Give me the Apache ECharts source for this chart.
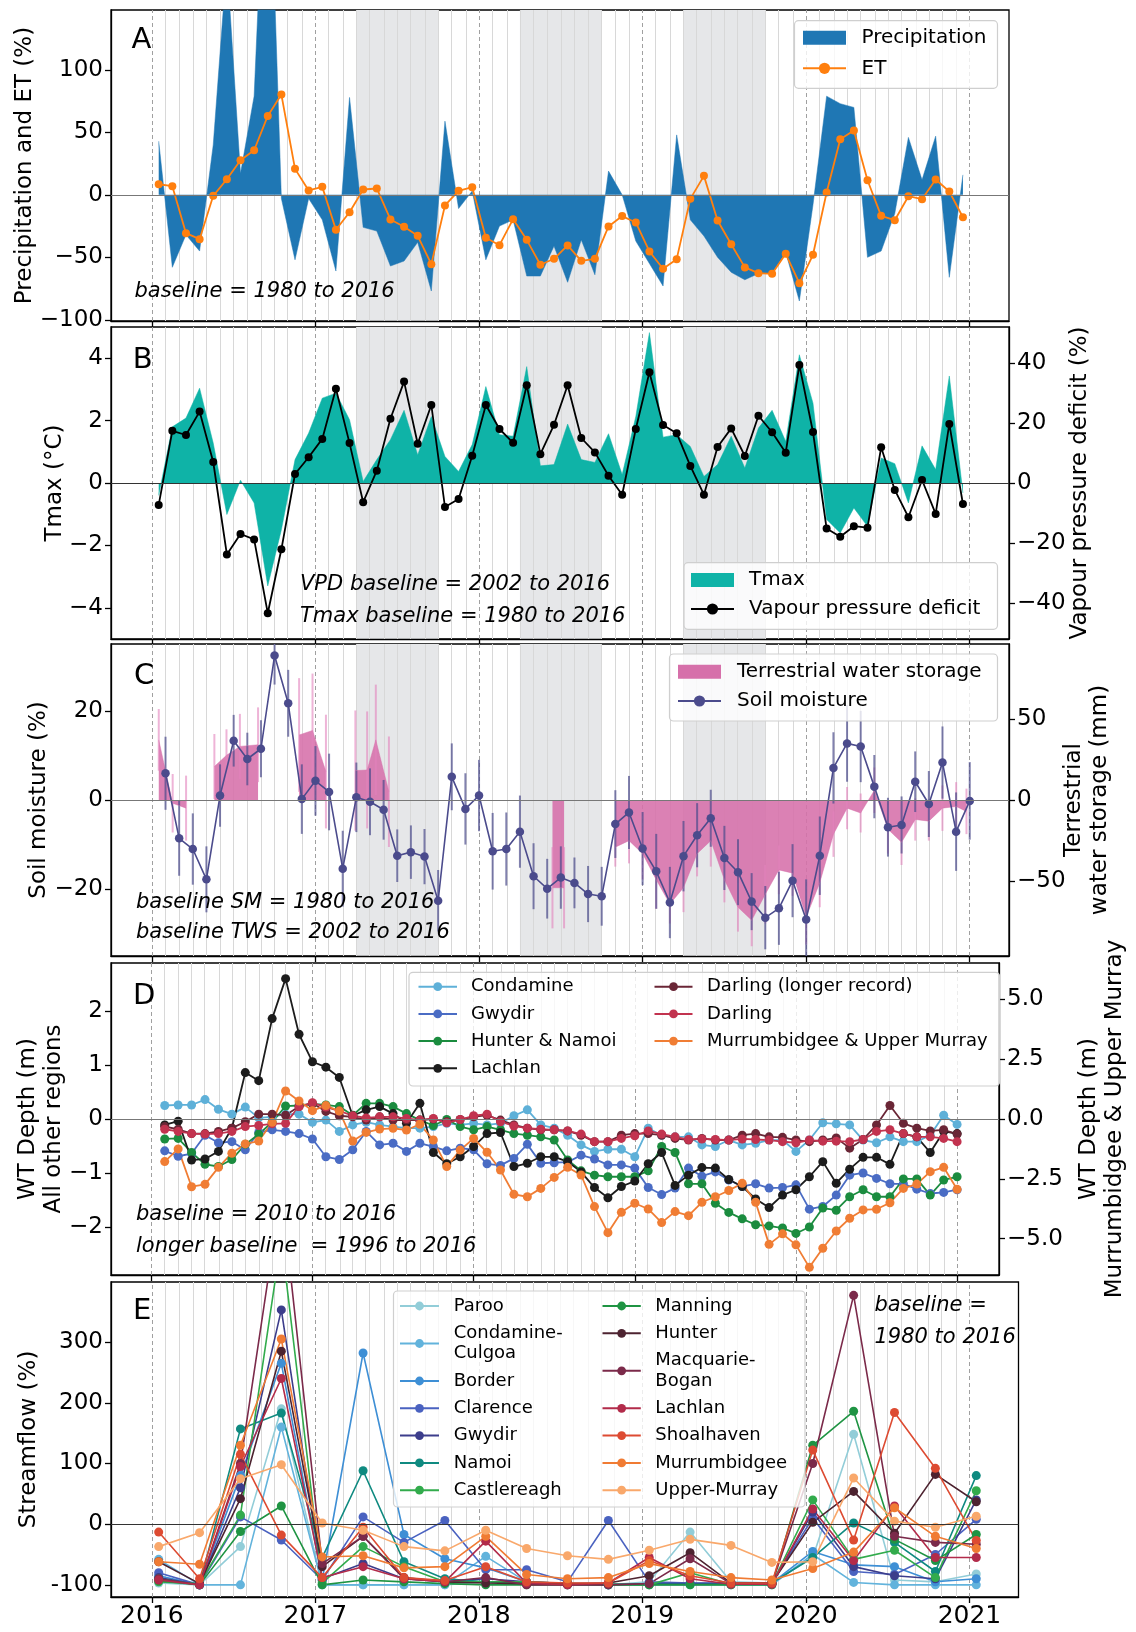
<!DOCTYPE html>
<html>
<head>
<meta charset="utf-8" />
<title>Drought indicators 2016-2021</title>
<script src="https://cdn.jsdelivr.net/npm/echarts@6.0.0/dist/echarts.min.js"></script>
<style>
  html, body { margin: 0; padding: 0; background: #fff; }
  #chart { width: 1136px; height: 1632px; }
</style>
</head>
<body>
<div id="chart"></div>
<script>
const FONT = "DejaVu Sans";

// time positions (decimal years)
const monthMid = [];
for (let i = 0; i < 60; i++) monthMid.push(2016 + (i + 0.5) / 12);
const monthEnd = [];
for (let k = 1; k <= 60; k++) monthEnd.push(2016 + k / 12);
const quarterMid = [];
for (let q = 0; q <= 20; q++) quarterMid.push(2016 + (3 * q + 0.5) / 12);

const yearTicks = [2016, 2017, 2018, 2019, 2020, 2021];
const dryPeriods = [[2017.25, 2017.75], [2018.25, 2018.75], [2019.25, 2019.75]];

// ---- A: precipitation and ET anomaly (%) ----
const precip = [43, -58, -32, -45, 40, 187, 17, 79, 330, -3, -52, -3, -20, -61, 78, -26, -29, -57, -53, -38,
  -77, 59, -11, 3, -52, -25, -20, -65, -65, -41, -70, -36, -64, 19, 0, -37, -55, -73, 48, -20,
  -33, -50, -62, -68, -63, -63, -46, -85, -8, 79, 73, 70, -50, -45, -15, 46, 12, 47, -66, 16];
const et = [8.5, 6.9, -30.7, -35.5, -0.8, 12.5, 27.7, 35.7, 63.2, 80.3, 20.8, 3.5, 6.4, -28, -13.9, 4.3, 5.1, -19.7, -25.6, -32.8,
  -55.5, -8.5, 3.2, 6.1, -34.4, -40.3, -19.5, -36, -56, -51.2, -40.5, -52.8, -51.2, -25.3, -17, -22.1, -45.3, -59.2, -51.5, -3.2,
  15.2, -20.5, -39.5, -58.1, -62.7, -63.2, -47.2, -70.7, -48, 1.9, 44.5, 51.5, 11.7, -16.8, -20.3, -1.1, -3.5, 12.3, 2.7, -17.9];

// ---- B: Tmax (°C) and VPD (%) ----
const tmax = [-0.4, 1.8, 2.08, 3.04, 1.28, -1.01, 0.09, -0.64, -3.3, -1.5, 0.75, 1.6, 2.72, 2.88, 2.03, 0.05, 0.75, 1.39, 2.33, 0.9,
  2.13, 0.85, 0.37, 1.23, 3.09, 1.55, 1.5, 3.73, 0.55, 0.59, 1.89, 0.75, 0.66, 1.58, 0.27, 2.13, 4.82, 1.47, 1.55, 1.17,
  0.21, 0.59, 1.5, 0.48, 1.76, 2.33, 1.33, 4.11, 2.56, -1.17, -1.6, -0.8, -1.39, 0.8, 0.62, -0.64, 1.19, 0.43, 3.43, -0.32];
const vpd = [-7.3, 17.4, 16, 23.8, 7, -23.8, -17, -18.8, -43.4, -22.1, 3, 8.6, 14.7, 31.4, 13.3, -6.4, 4.1, 21.4, 33.8, 13.1,
  26, -8, -5.3, 9.1, 26, 18, 13.4, 32.6, 9.6, 19.4, 32.6, 15, 10.2, 2.4, -3.9, 18, 36.9, 19.3, 16.6, 5.7,
  -3.9, 12, 18.2, 9, 22.4, 16.9, 10.1, 39.3, 17, -15.2, -17.9, -14.4, -14.9, 11.9, -2.3, -11.4, 1, -10.3, 19.7, -7];

// ---- C: soil moisture (%) and terrestrial water storage (mm) ----
const soilMoisture = [6, -8.6, -11, -17.8, 1, 13.3, 9.2, 11.5, 32.4, 21.7, 0.2, 4.3, 1.8, -15.4, 0.6, -0.4, -2.2, -12.5, -11.7, -12.7,
  -22.6, 5.2, -2, 1, -11.5, -11, -7.1, -17.1, -19.9, -17.4, -18.6, -21.1, -21.6, -5.4, -2.8, -10.9, -16, -23, -12.6, -7.9,
  -4.1, -13, -16.2, -22.8, -26.4, -24.3, -18.1, -26.8, -12.5, 7.2, 12.7, 12, 3, -6.1, -5.6, 4.1, -0.9, 8.4, -7.1, -0.2];
const soilMoistureErr = [8.2, 8.4, 8, 7.4, 7, 5.8, 5.9, 6.4, 6.5, 7.5, 7.8, 7.8, 8.6, 8.5, 7.8, 7.5, 6.7, 5.9, 6, 6.2,
  6.9, 7.5, 8, 8, 8.6, 8.2, 8.1, 7.4, 6.7, 7, 5.7, 6.3, 6.6, 7.6, 8.2, 8.2, 8.4, 8, 7.9, 7.2,
  6.4, 7.2, 7.4, 6.4, 7.1, 8.2, 8.2, 9, 8.8, 8, 8.6, 8, 7.1, 6.6, 6.4, 6.8, 7.4, 8.1, 8.8, 8.7];
const twsDates = [2016.042, 2016.127, 2016.209, 2016.3, 2016.382, 2016.456, 2016.538, 2016.649, 2016.75,
  2016.9, 2016.982, 2017.064, 2017.15, 2017.244, 2017.316, 2017.369, 2017.449, 2017.9, 2018.449, 2018.52, 2018.7,
  2018.833, 2018.917, 2019.0, 2019.083, 2019.167, 2019.25, 2019.333, 2019.417, 2019.5, 2019.583, 2019.667, 2019.75,
  2019.833, 2019.917, 2020.0, 2020.083, 2020.167, 2020.25, 2020.333, 2020.417, 2020.5, 2020.583, 2020.667, 2020.75,
  2020.833, 2020.917, 2020.98];
const tws = [37, -2, -5, null, 20.6, 27.5, 33, 34, null, 40, 42.8, 17.5, null, 18.1, 18.5, 37, 5.1, null, -54, -54, null,
  -29, -25, -33, -49, -64, -54, -33, -25, -49, -66, -74, -58, -43, -45, -72, -51, -21, -5, -8, 6, -18, -26, -12, -13, -5, -4, -7];
const twsErr = [19, 18, 20, null, 20, 16, 20, 23, null, 35, 35, 35, null, 37, 36, 34, 34, null, 25, 25, null,
  12, 14, 16, 18, 12, 15, 14, 16, 14, 15, 16, 18, 15, 14, 17, 15, 14, 13, 12, 14, 15, 14, 13, 12, 14, 15, 14];

// ---- D: water table depth anomaly (m) ----
const wtCondamine = [0.25, 0.26, 0.26, 0.36, 0.18, 0.09, 0.22, 0.02, 0.04, 0.09, 0.09, -0.06, -0.02, -0.23, -0.11, -0.06, -0.11, -0.14, -0.17, -0.17,
  -0.14, -0.08, -0.11, -0.08, -0.11, -0.08, 0.06, 0.17, -0.11, -0.17, -0.3, -0.48, -0.6, -0.56, -0.56, -0.7, -0.17, -0.3, -0.33, -0.33,
  -0.48, -0.51, -0.39, -0.48, -0.45, -0.39, -0.39, -0.6, -0.39, -0.07, -0.09, -0.11, -0.39, -0.44, -0.33, -0.42, -0.42, -0.3, 0.07, -0.1];
const wtGwydir = [-0.59, -0.69, -0.64, -0.3, -0.44, -0.42, -0.57, -0.25, -0.2, -0.23, -0.27, -0.37, -0.7, -0.75, -0.57, -0.23, -0.48, -0.45, -0.6, -0.45,
  -0.51, -0.59, -0.54, -0.57, -0.83, -0.86, -0.73, -0.47, -0.82, -0.81, -0.8, -0.67, -0.74, -0.85, -0.85, -0.91, -1.27, -1.4, -1.28, -0.91,
  -1.06, -0.98, -1.13, -1.25, -1.2, -1.28, -1.27, -1.22, -1.67, -1.62, -1.41, -1.04, -1.0, -1.1, -1.2, -1.2, -1.3, -1.38, -1.36, -1.31];
const wtHunterNamoi = [-0.37, -0.36, -0.62, -0.84, -0.88, -0.75, -0.47, -0.28, -0.06, 0.24, 0.25, 0.28, 0.26, 0.23, 0.07, 0.29, 0.29, 0.23, 0.1, -0.02,
  -0.12, -0.01, -0.14, -0.2, -0.14, -0.2, -0.27, -0.3, -0.33, -0.39, -0.76, -0.96, -1.04, -1.07, -1.07, -1.07, -0.96, -0.51, -0.62, -1.2,
  -1.2, -1.56, -1.73, -1.85, -1.96, -1.98, -2.02, -2.12, -2.0, -1.65, -1.69, -1.44, -1.31, -1.44, -1.44, -1.11, -1.11, -1.41, -1.13, -1.07];
const wtLachlan = [-0.11, -0.04, -0.76, -0.74, -0.6, -0.17, 0.86, 0.71, 1.86, 2.6, 1.57, 1.06, 0.96, 0.77, 0.06, 0.17, 0.23, 0.1, -0.08, 0.29,
  -0.62, -0.83, -0.7, -0.51, -0.27, -0.25, -0.88, -0.82, -0.7, -0.7, -0.79, -0.98, -1.27, -1.46, -1.25, -1.15, -0.83, -0.62, -1.23, -1.04,
  -0.9, -0.91, -1.12, -1.25, -1.48, -1.64, -1.41, -1.31, -1.07, -0.79, -1.19, -0.93, -0.71, -0.71, -0.84, -0.27, -0.33, -0.62, -0.23, -0.27];
const wtDarlingLong = [-0.14, -0.19, -0.27, -0.27, -0.23, -0.17, -0.05, 0.09, 0.09, 0.07, 0.23, 0.29, 0.14, 0.06, 0.04, -0.02, 0.04, -0.02, -0.02, -0.02,
  0, -0.05, -0.01, 0.04, 0.07, -0.02, -0.11, -0.17, -0.2, -0.2, -0.22, -0.3, -0.42, -0.42, -0.3, -0.27, -0.27, -0.3, -0.36, -0.39,
  -0.36, -0.39, -0.39, -0.3, -0.27, -0.33, -0.34, -0.39, -0.42, -0.39, -0.35, -0.54, -0.38, -0.11, 0.25, -0.08, -0.17, -0.22, -0.2, -0.28];
const wtDarling = [-0.19, -0.23, -0.27, -0.28, -0.27, -0.23, -0.14, -0.12, -0.09, -0.08, 0.23, 0.3, 0.22, 0.15, 0.06, 0.02, 0.04, 0.04, 0.01, -0.02,
  0.01, -0.07, -0.01, 0.06, 0.09, -0.05, -0.13, -0.17, -0.19, -0.2, -0.22, -0.28, -0.42, -0.42, -0.36, -0.31, -0.22, -0.28, -0.33, -0.38,
  -0.37, -0.38, -0.39, -0.37, -0.38, -0.39, -0.42, -0.44, -0.39, -0.41, -0.41, -0.42, -0.38, -0.23, -0.2, -0.27, -0.33, -0.33, -0.36, -0.42];
// right axis
const wtMurrumbidgee = [-1.78, -1.25, -2.83, -2.73, -2.02, -1.43, -1.04, -0.92, -0.14, 1.17, 0.75, 0.35, 0.56, 0.33, -0.92, -0.56, -0.42, -0.39, -0.46, -0.22,
  -0.88, -1.99, -1.3, -0.81, -1.39, -2.13, -3.15, -3.25, -2.9, -2.44, -2.02, -2.34, -3.66, -4.75, -3.9, -3.52, -3.76, -4.33, -3.87, -4.04,
  -3.48, -3.25, -2.99, -2.69, -3.48, -5.24, -4.8, -5.26, -6.2, -5.4, -4.68, -4.15, -3.8, -3.77, -3.5, -2.9, -2.72, -2.2, -2.02, -2.94];

// ---- E: streamflow anomaly (%), quarterly ----
const sfParoo = [-97, -100, -37, 190, -100, -100, -100, -100, -95, -98, -98, -100, -95, -13, -95, -97, -55, 148, -92, -95, -82];
const sfCondamineCulgoa = [-58, -100, -100, 160, -100, -100, -100, -100, -53, -95, -100, -100, -100, -100, -100, -100, -50, -96, -100, -100, -100];
const sfBorder = [-85, -100, 80, 265, -92, 282, -17, -57, -72, -95, -98, -100, -98, -98, -98, -97, -45, -67, -70, -95, -90];
const sfClarence = [-80, -100, 12, -26, -92, 12, -30, 6, -75, -75, -95, 6, -95, -97, -97, -97, 10, -78, -83, -50, 8];
const sfGwydir = [-88, -100, 60, 353, -90, -65, -90, -95, -90, -95, -98, -100, -98, -98, -98, -98, 20, -70, -85, -90, 40];
const sfNamoi = [-90, -100, 157, 183, -55, 88, -62, -90, -95, -97, -98, -99, -99, -99, -99, -97, -55, 2, -30, -78, 80];
const sfCastlereagh = [-95, -98, 15, 470, -97, -37, -70, -95, -95, -95, -98, -99, -100, -80, -99, -99, 40, -58, -43, -88, 55];
const sfManning = [-93, -100, -12, 30, -100, -92, -95, -98, -100, -100, -100, -100, -100, -100, -100, -100, 130, 186, -25, -60, -17];
const sfHunter = [-62, -98, 42, 285, -70, -20, -88, -95, -97, -98, -98, -97, -85, -47, -97, -97, 3, 54, -15, 82, 37];
const sfMacquarie = [-90, -100, 100, 550, -65, -20, -90, -95, -88, -100, -100, -100, -98, -57, -98, -98, 100, 377, -20, -30, -33];
const sfLachlan = [-92, -100, 95, 240, -88, -70, -90, -95, -28, -97, -100, -97, -55, -90, -99, -99, 25, -60, 30, -55, -55];
const sfShoalhaven = [-13, -90, 115, -18, -88, -5, -88, -93, -70, -95, -97, -97, -60, -85, -97, -97, 122, -26, 184, 92, -27];
const sfMurrumbidgee = [-62, -66, 130, 305, -54, -52, -72, -70, -20, -83, -90, -88, -65, -78, -88, -92, -73, -46, 27, -20, -40];
const sfUpperMurray = [-37, -14, 75, 98, 2, -10, -37, -44, -10, -40, -52, -58, -43, -25, -35, -63, -62, 76, 5, -5, 13];

// ---- helpers ----
const pairs = (xs, ys) => xs.map((x, i) => [x, ys[i] === null ? "-" : ys[i]]);
const errPairs = (xs, ys, es) =>
  xs.map((x, i) => (ys[i] === null ? null : [x, ys[i] - es[i], ys[i] + es[i]])).filter((d) => d);
const minusFmt = (v) => (v < 0 ? "\u2212" + Math.abs(v) : String(v));
const minusFmt1 = (v) => (v < 0 ? "\u2212" + Math.abs(v).toFixed(1) : v.toFixed(1));

const monthLines = [];
for (let m = 0; m <= 60; m++) {
  monthLines.push({
    xAxis: 2016 + m / 12,
    lineStyle: m % 12 === 0
      ? { color: "#a0a0a0", width: 1, type: [4, 3] }
      : { color: "#d8d8d8", width: 1, type: "solid" },
  });
}

const backdrop = (g, y, shaded) => {
  const out = [{
    type: "line", xAxisIndex: g, yAxisIndex: y, data: [[2016, 0]], symbol: "none",
    lineStyle: { opacity: 0 }, silent: true, z: 1,
    markLine: { z: 1, silent: true, symbol: ["none", "none"], label: { show: false }, emphasis: { disabled: true }, data: monthLines },
  }];
  if (shaded) {
    out.push({
      type: "line", xAxisIndex: g, yAxisIndex: y, data: [[2016, 0]], symbol: "none",
      lineStyle: { opacity: 0 }, silent: true, z: 0,
      markArea: { z: 0, silent: true, itemStyle: { color: "#e6e7e9" }, emphasis: { disabled: true },
        data: dryPeriods.map(([a, b]) => [{ xAxis: a }, { xAxis: b }]) },
    });
  }
  return out;
};

const zeroLine = (g, y, color) => ({
  type: "line", xAxisIndex: g, yAxisIndex: y, data: [[2016, 0]], symbol: "none",
  lineStyle: { opacity: 0 }, silent: true, z: 4,
  markLine: { z: 4, silent: true, symbol: ["none", "none"], label: { show: false }, emphasis: { disabled: true },
    lineStyle: { color, width: 1.2, type: "solid" }, data: [{ yAxis: 0 }] },
});

const areaSeries = (name, g, y, data, color, opacity) => ({
  name, type: "line", xAxisIndex: g, yAxisIndex: y, data, symbol: "none", showSymbol: false,
  connectNulls: false, z: 2, silent: true,
  itemStyle: { color }, lineStyle: { width: 0.5, color, opacity },
  areaStyle: { color, opacity },
});

const lineSeries = (name, g, y, data, color, size, width) => ({
  name, type: "line", xAxisIndex: g, yAxisIndex: y, data, symbol: "circle", symbolSize: size,
  showSymbol: true, z: 3, silent: true,
  itemStyle: { color }, lineStyle: { color, width },
});

const errorSeries = (g, y, data, color) => ({
  type: "custom", xAxisIndex: g, yAxisIndex: y, data, clip: true, z: 2, silent: true,
  encode: { x: 0, y: [1, 2] },
  renderItem: (params, api) => {
    const a = api.coord([api.value(0), api.value(1)]);
    const b = api.coord([api.value(0), api.value(2)]);
    return { type: "line", shape: { x1: a[0], y1: a[1], x2: b[0], y2: b[1] }, style: { stroke: color, lineWidth: 2 } };
  },
});

const tickStyle = { color: "#000", width: 1.3 };

const xAxisFor = (g, max) => ({
  type: "value", gridIndex: g, min: 2015.75, max,
  splitLine: { show: false },
  axisLine: { show: true, onZero: false, lineStyle: tickStyle },
  axisTick: { show: true, customValues: yearTicks, length: 6, lineStyle: tickStyle },
  axisLabel: { show: g === 4, customValues: yearTicks, formatter: (v) => String(v),
    fontSize: 25, color: "#000", margin: 7, fontFamily: FONT },
});

const yAxisFor = (g, side, min, max, ticks, fmt, name, gap) => ({
  type: "value", gridIndex: g, position: side, min, max,
  splitLine: { show: false },
  axisLine: { show: true, onZero: false, lineStyle: tickStyle },
  axisTick: { show: true, customValues: ticks, length: 6, lineStyle: tickStyle },
  axisLabel: { customValues: ticks, formatter: fmt, fontSize: 23, color: "#000", margin: 8, fontFamily: FONT },
  name, nameLocation: "middle", nameGap: gap, nameRotate: 90, nameMoveOverlap: false,
  nameTextStyle: { fontSize: 23, color: "#000", fontFamily: FONT, lineHeight: 26 },
});

const legendFor = (left, top, data, size, lh, gap, iw, ih, pad, formatter) => ({
  orient: "vertical", left, top, data, padding: 0, itemGap: gap, itemWidth: iw, itemHeight: ih,
  selectedMode: false, z: 6, formatter,
  textStyle: { fontSize: size, lineHeight: lh, color: "#000", fontFamily: FONT, padding: [0, 0, 0, pad] },
});

const legendBox = (x, y, w, h) => ({
  type: "rect", shape: { x, y, width: w, height: h, r: 4 }, silent: true, z: 5,
  style: { fill: "rgba(255,255,255,0.8)", stroke: "#cfcfcf", lineWidth: 1.2 },
});

const note = (x, y, text, size, italic) => ({
  type: "text", x, y, silent: true, z: 7,
  style: { text, fontSize: size, fontFamily: FONT, fontStyle: italic ? "italic" : "normal", fill: "#000", verticalAlign: "middle" },
});

// ---- series lists for D and E ----
const wtSeries = [
  ["Condamine", wtCondamine, "#5eb0d8", 5],
  ["Gwydir", wtGwydir, "#4a6cc4", 5],
  ["Hunter & Namoi", wtHunterNamoi, "#1b8c3f", 5],
  ["Lachlan", wtLachlan, "#1c1c1c", 5],
  ["Darling (longer record)", wtDarlingLong, "#6a2636", 5],
  ["Darling", wtDarling, "#c2334f", 5],
  ["Murrumbidgee & Upper Murray", wtMurrumbidgee, "#f07d34", 6],
];

const sfSeries = [
  ["Paroo", sfParoo, "#92cdd8"],
  ["Condamine-Culgoa", sfCondamineCulgoa, "#62b3dc"],
  ["Border", sfBorder, "#3e8fd5"],
  ["Clarence", sfClarence, "#4a62c0"],
  ["Gwydir", sfGwydir, "#3c3d8b"],
  ["Namoi", sfNamoi, "#0f8a80"],
  ["Castlereagh", sfCastlereagh, "#32ab4c"],
  ["Manning", sfManning, "#1f9443"],
  ["Hunter", sfHunter, "#4d2330"],
  ["Macquarie-Bogan", sfMacquarie, "#7b2a4a"],
  ["Lachlan", sfLachlan, "#b22b4a"],
  ["Shoalhaven", sfShoalhaven, "#dd4b32"],
  ["Murrumbidgee", sfMurrumbidgee, "#f07b33"],
  ["Upper-Murray", sfUpperMurray, "#f9a86b"],
];
const eLabel = (n) => n.slice(2).replace("Condamine-Culgoa", "Condamine-\nCulgoa").replace("Macquarie-Bogan", "Macquarie-\nBogan");

const chart = echarts.init(document.getElementById("chart"));

chart.setOption({
  animation: false,
  backgroundColor: "#fff",
  textStyle: { fontFamily: FONT },
  grid: [
    { left: 111, right: 127, top: 10, height: 311 },
    { left: 111, right: 127, top: 327, height: 312 },
    { left: 111, right: 127, top: 644, height: 312 },
    { left: 111, right: 124, top: 963, height: 312 },
    { left: 111, right: 117.5, top: 1282, height: 315 },
  ].map((g) => Object.assign(g, { show: true, borderColor: "#000", borderWidth: 1.3, backgroundColor: "transparent" })),
  xAxis: [
    xAxisFor(0, 2021.24),
    xAxisFor(1, 2021.24),
    xAxisFor(2, 2021.24),
    xAxisFor(3, 2021.26),
    xAxisFor(4, 2021.3),
  ],
  yAxis: [
    yAxisFor(0, "left", -101, 148, [-100, -50, 0, 50, 100], minusFmt, "Precipitation and ET (%)", 73),
    yAxisFor(1, "left", -5, 5, [-4, -2, 0, 2, 4], minusFmt, "Tmax (°C)", 43),
    yAxisFor(1, "right", -52, 52, [-40, -20, 0, 20, 40], minusFmt, "Vapour pressure deficit (%)", 58),
    yAxisFor(2, "left", -35, 35, [-20, 0, 20], minusFmt, "Soil moisture (%)", 59),
    yAxisFor(2, "right", -96, 96, [-50, 0, 50], minusFmt, "Terrestrial\nwater storage (mm)", 52),
    yAxisFor(3, "left", -2.89, 2.89, [-2, -1, 0, 1, 2], minusFmt, "WT Depth (m)\nAll other regions", 44),
    yAxisFor(3, "right", -6.52, 6.52, [-5, -2.5, 0, 2.5, 5], minusFmt1, "WT Depth (m)\nMurrumbidgee & Upper Murray", 77),
    yAxisFor(4, "left", -120, 399, [-100, 0, 100, 200, 300], (v) => String(v), "Streamflow (%)", 69),
  ],
  legend: [
    legendFor(802, 25.7, [{ name: "Precipitation", icon: "rect" }, "ET"], 20, 24, 6.6, 43, 14, 10.5),
    legendFor(690, 568, [{ name: "Tmax", icon: "rect" }, "Vapour pressure deficit"], 20, 24, 5, 43, 14, 10),
    legendFor(677, 659.7, [{ name: "Terrestrial water storage", icon: "rect" }, "Soil moisture"], 20, 24, 5.3, 43, 14, 11),
    legendFor(417.5, 975.7, wtSeries.slice(0, 4).map((s) => s[0]), 18, 22, 5.2, 38.5, 11, 9),
    legendFor(653.5, 975.7, wtSeries.slice(4).map((s) => s[0]), 18, 22, 5.2, 38, 11, 9.5),
    legendFor(399, 1295.8, sfSeries.slice(0, 7).map((s) => "E " + s[0]), 18, 20.4, 6.9, 39, 11, 9.7, eLabel),
    legendFor(601.5, 1295.8, sfSeries.slice(7).map((s) => "E " + s[0]), 18, 20.4, 6.9, 38.3, 11, 9.5, eLabel),
  ],
  graphic: [
    legendBox(794.5, 20.7, 203, 67.6),
    legendBox(684, 562.7, 313.5, 66.6),
    legendBox(669.5, 654, 328, 67),
    legendBox(409, 972.3, 590.5, 113.7),
    legendBox(393.5, 1291, 411.5, 216),
    note(131.6, 40.7, "A", 29, false),
    note(132.7, 360, "B", 29, false),
    note(134, 676.7, "C", 29, false),
    note(133, 996.7, "D", 29, false),
    note(133, 1311, "E", 29, false),
    note(134.5, 291.7, "baseline = 1980 to 2016", 21, true),
    note(300, 585, "VPD baseline = 2002 to 2016", 21, true),
    note(300, 616.7, "Tmax baseline = 1980 to 2016", 21, true),
    note(136, 903, "baseline SM = 1980 to 2016", 21, true),
    note(136, 933, "baseline TWS = 2002 to 2016", 21, true),
    note(136, 1215, "baseline = 2010 to 2016", 21, true),
    note(136, 1247, "longer baseline  = 1996 to 2016", 21, true),
    note(874.5, 1305.7, "baseline =", 21, true),
    note(874.5, 1337.7, "1980 to 2016", 21, true),
  ],
  series: [
    // A
    ...backdrop(0, 0, true),
    areaSeries("Precipitation", 0, 0, pairs(monthMid, precip), "#1f77b4", 1),
    zeroLine(0, 0, "#777"),
    lineSeries("ET", 0, 0, pairs(monthMid, et), "#ff7f0e", 8, 1.8),
    // B
    ...backdrop(1, 1, true),
    areaSeries("Tmax", 1, 1, pairs(monthMid, tmax), "#0fb3a7", 1),
    zeroLine(1, 1, "#333"),
    lineSeries("Vapour pressure deficit", 1, 2, pairs(monthMid, vpd), "#000", 8, 1.8),
    // C
    ...backdrop(2, 3, true),
    areaSeries("Terrestrial water storage", 2, 4, pairs(twsDates, tws), "#d670aa", 0.88),
    errorSeries(2, 4, errPairs(twsDates, tws, twsErr), "rgba(226,130,188,0.6)"),
    zeroLine(2, 3, "#777"),
    errorSeries(2, 3, errPairs(monthEnd, soilMoisture, soilMoistureErr), "rgba(75,75,140,0.7)"),
    lineSeries("Soil moisture", 2, 3, pairs(monthEnd, soilMoisture), "#4b4b8c", 8.5, 1.6),
    // D
    ...backdrop(3, 5, false),
    zeroLine(3, 5, "#777"),
    ...wtSeries.map(([name, vals, color, y]) => lineSeries(name, 3, y, pairs(monthEnd, vals), color, 9, 1.8)),
    // E
    ...backdrop(4, 7, false),
    zeroLine(4, 7, "#333"),
    ...sfSeries.map(([name, vals, color]) => lineSeries("E " + name, 4, 7, pairs(quarterMid, vals), color, 9, 1.6)),
  ],
});
</script>
</body>
</html>
